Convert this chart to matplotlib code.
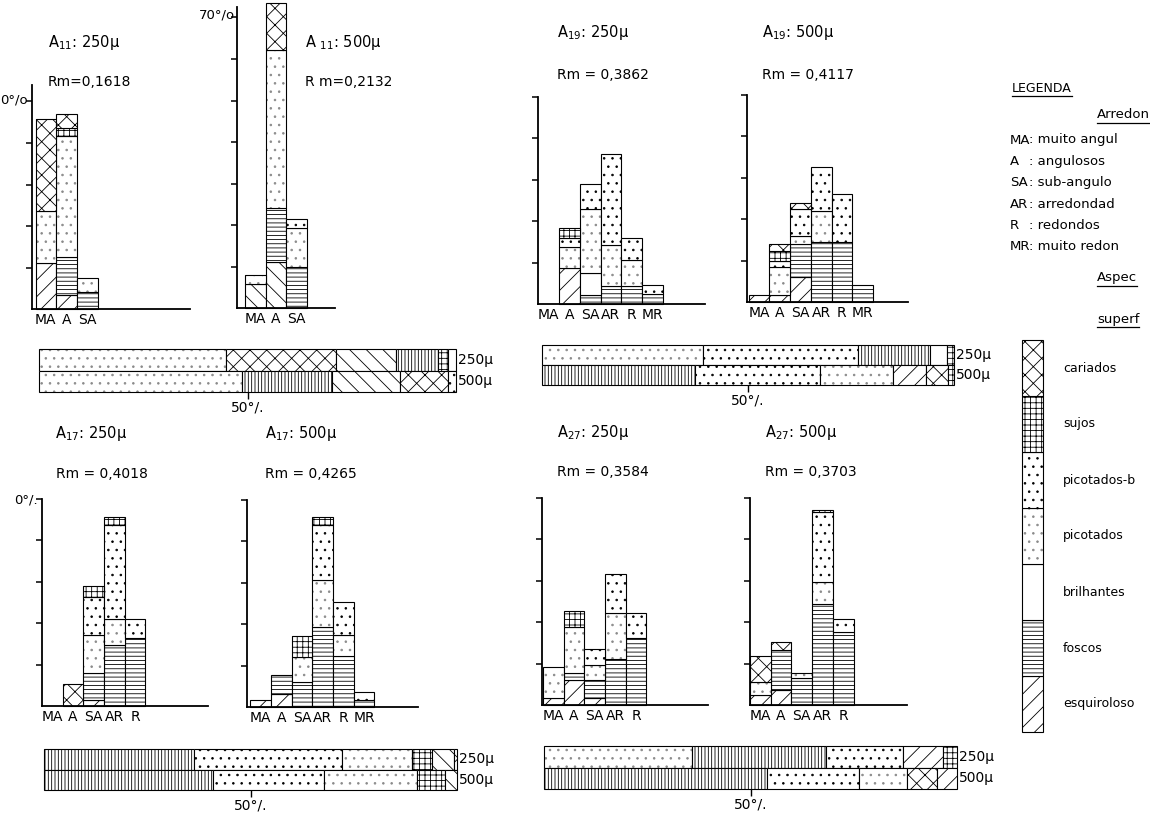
import matplotlib
matplotlib.use('Agg')
import matplotlib.pyplot as plt
from matplotlib.lines import Line2D

plt.rcParams['font.family'] = ['DejaVu Sans']
plt.rcParams['hatch.linewidth'] = 0.6
plt.rcParams['hatch.color'] = 'black'

# ---------------- data (percent of grains) ----------------
CATS = ['esquirolosos', 'foscos', 'brilhantes', 'picotados',
        'picotados-brilhantes', 'sujos', 'cariados']   # stacking bottom -> top

CLASSES3 = ['MA', 'A', 'SA']
CLASSES5 = ['MA', 'A', 'SA', 'AR', 'R']
CLASSES6 = ['MA', 'A', 'SA', 'AR', 'R', 'MR']

A11_250 = {'esquirolosos': [11.0, 3.4, 0], 'foscos': [0, 9.2, 4.0],
           'picotados': [12.7, 29.0, 3.4], 'sujos': [0, 2.0, 0],
           'cariados': [22.1, 3.4, 0]}
A11_500 = {'esquirolosos': [5.8, 11.2, 0], 'foscos': [0, 13.0, 10.0],
           'picotados': [2.2, 38.0, 9.2], 'picotados-brilhantes': [0, 0, 2.2],
           'cariados': [0, 11.3, 0]}
A19_250 = {'esquirolosos': [0, 8.6, 0, 0, 0, 0], 'foscos': [0, 0, 2.2, 4.3, 4.3, 2.4],
           'brilhantes': [0, 0, 5.2, 0, 0, 0], 'picotados': [0, 5.2, 15.6, 10.0, 6.3, 0],
           'picotados-brilhantes': [0, 2.2, 6.0, 21.9, 5.4, 2.2],
           'sujos': [0, 2.3, 0, 0, 0, 0]}
A19_500 = {'esquirolosos': [1.8, 1.6, 6.0, 0, 0, 0], 'foscos': [0, 0, 8.0, 14.4, 14.4, 4.0],
           'picotados': [0, 6.8, 2.0, 7.6, 0, 0],
           'picotados-brilhantes': [0, 1.6, 6.4, 10.6, 11.6, 0],
           'sujos': [0, 2.4, 0, 0, 0, 0], 'cariados': [0, 1.6, 1.4, 0, 0, 0]}
A17_250 = {'esquirolosos': [0, 0, 1.4, 0, 0], 'foscos': [0, 0, 6.5, 14.7, 16.5],
           'picotados': [0, 0, 9.2, 6.2, 0],
           'picotados-brilhantes': [0, 0, 9.2, 22.7, 4.4],
           'sujos': [0, 0, 2.6, 1.9, 0], 'cariados': [0, 5.4, 0, 0, 0]}
A17_500 = {'esquirolosos': [1.6, 3.2, 0, 0, 0, 0], 'foscos': [0, 4.6, 6.0, 19.3, 12.4, 1.6],
           'picotados': [0, 0, 6.0, 11.2, 4.9, 0],
           'picotados-brilhantes': [0, 0, 0, 13.3, 8.0, 2.0],
           'sujos': [0, 0, 5.2, 2.0, 0, 0]}
A27_250 = {'esquirolosos': [1.6, 6.0, 1.6, 0, 0], 'foscos': [0, 1.8, 4.4, 11.2, 16.2],
           'picotados': [7.6, 11.0, 3.6, 11.0, 0],
           'picotados-brilhantes': [0, 0, 3.8, 9.4, 6.0],
           'sujos': [0, 3.9, 0, 0, 0]}
A27_500 = {'esquirolosos': [2.4, 3.6, 0, 0, 0], 'foscos': [0, 9.6, 6.4, 24.4, 17.6],
           'picotados': [3.2, 0, 1.4, 5.2, 0],
           'picotados-brilhantes': [0, 0, 0, 16.8, 3.2],
           'sujos': [0, 0, 0, 0.6, 0], 'cariados': [6.2, 2.0, 0, 0, 0]}

# totals per sample (100 % bars), in drawing order left -> right
H_A11_250 = [('picotados', 44.8), ('cariados', 26.4), ('esquirolosos', 14.4),
             ('foscos', 10.2), ('sujos', 2.4), ('brilhantes', 1.8)]
H_A11_500 = [('picotados', 48.8), ('foscos', 21.4), ('esquirolosos', 16.4),
             ('cariados', 11.6), ('picotados-brilhantes', 1.8)]
H_A19_250 = [('picotados', 39.0), ('picotados-brilhantes', 37.8), ('foscos', 17.4),
             ('brilhantes', 4.0), ('sujos', 1.8)]
H_A19_500 = [('foscos', 37.2), ('picotados-brilhantes', 30.2), ('picotados', 17.9),
             ('esquirolosos', 7.9), ('cariados', 5.4), ('sujos', 1.4)]
H_A17_250 = [('foscos', 36.2), ('picotados-brilhantes', 35.9), ('picotados', 17.0),
             ('sujos', 4.8), ('esquirolosos', 5.4), ('cariados', 0.7)]
H_A17_500 = [('foscos', 41.0), ('picotados-brilhantes', 26.8), ('picotados', 22.5),
             ('sujos', 6.9), ('esquirolosos', 2.8)]
H_A27_250 = [('picotados', 35.8), ('foscos', 32.6), ('picotados-brilhantes', 18.6),
             ('esquirolosos', 9.5), ('sujos', 3.6)]
H_A27_500 = [('foscos', 54.0), ('picotados-brilhantes', 22.2), ('picotados', 11.7),
             ('cariados', 7.3), ('esquirolosos', 4.8)]

# legend texts (as visible, the page is cut at the right edge)
ROUND_ABBR = ['MA', 'A', 'SA', 'AR', 'R', 'MR']
ROUND_NAMES = ['muito angul', 'angulosos', 'sub-angulo',
               'arredondad', 'redondos', 'muito redon']
SURF_LABELS = {'cariados': 'cariados', 'sujos': 'sujos',
               'picotados-brilhantes': 'picotados-b', 'picotados': 'picotados',
               'brilhantes': 'brilhantes', 'foscos': 'foscos',
               'esquirolosos': 'esquiroloso'}

# ---------------- styles ----------------
HATCH_V = {'esquirolosos': '//', 'foscos': '----', 'brilhantes': '',
           'picotados': '..', 'picotados-brilhantes': '..', 'sujos': '+++',
           'cariados': 'xx'}
HATCH_H = {'esquirolosos': '\\\\', 'foscos': '|||||', 'brilhantes': '',
           'picotados': '..', 'picotados-brilhantes': '..', 'sujos': '+++',
           'cariados': 'xx'}
HCOLOR = {'picotados': '#8a8a8a'}

W, H = 1150, 815
fig = plt.figure(figsize=(W / 100, H / 100), dpi=100)
fig.patch.set_facecolor('white')
renderer = fig.canvas.get_renderer()


def px_axes(x0, y_top, x1, y_bot):
    return fig.add_axes([x0 / W, 1 - y_bot / H, (x1 - x0) / W, (y_bot - y_top) / H])


def ftext(x, y, s, underline=False, **kw):
    kw.setdefault('va', 'center')
    kw.setdefault('ha', 'left')
    t = fig.text(x / W, 1 - y / H, s, **kw)
    if underline:
        bb = t.get_window_extent(renderer)
        yl = bb.y0 - 1
        fig.add_artist(Line2D([bb.x0 / W, bb.x1 / W], [yl / H, yl / H],
                              color='black', linewidth=0.9))
    return t


def seg(ax, horizontal, pos, val, start, hatch, hcol):
    if horizontal:
        ax.barh(pos, val, height=1, left=start, align='edge', facecolor='white',
                edgecolor=hcol, hatch=hatch, linewidth=0, clip_on=False)
        ax.barh(pos, val, height=1, left=start, align='edge', fill=False,
                edgecolor='black', linewidth=0.8, clip_on=False)
    else:
        ax.bar(pos, val, width=1, bottom=start, align='edge', facecolor='white',
               edgecolor=hcol, hatch=hatch, linewidth=0, clip_on=False)
        ax.bar(pos, val, width=1, bottom=start, align='edge', fill=False,
               edgecolor='black', linewidth=0.8, clip_on=False)


PXPCT = 4.15
BARW = 20.7


def panel(data, labels, ax_x, base, end, top, off, ymax=None, esq='//'):
    ymax = ymax or top
    hpx = ymax * PXPCT
    ax = px_axes(ax_x, base - hpx, end, base)
    ax.set_xlim(0, (end - ax_x) / BARW)
    ax.set_ylim(0, ymax)
    n = len(labels)
    xs = [off / BARW + i for i in range(n)]
    bottoms = [0.0] * n
    for cat in CATS:
        vals = data.get(cat, [0] * n)
        hatch = esq if cat == 'esquirolosos' else HATCH_V[cat]
        for i in range(n):
            if vals[i] > 0:
                seg(ax, False, xs[i], vals[i], bottoms[i], hatch,
                    HCOLOR.get(cat, 'black'))
            bottoms[i] += vals[i]
    for s in ['top', 'right']:
        ax.spines[s].set_visible(False)
    for s in ['left', 'bottom']:
        ax.spines[s].set_linewidth(1.3)
    ax.spines['left'].set_bounds(0, top)
    ax.set_yticks(range(10, int(top) + 1, 10))
    ax.tick_params(axis='y', direction='out', length=4, width=1.1, labelleft=False)
    ax.set_xticks([x + 0.5 for x in xs])
    ax.set_xticklabels(labels, fontsize=10)
    ax.tick_params(axis='x', length=0, pad=3)
    ax.set_facecolor('none')
    return ax


def hbars(rows, x0, y_top, x1, y_bot, esq):
    ax = px_axes(x0, y_top, x1, y_bot)
    ax.set_xlim(0, 100)
    ax.set_ylim(0, 2)
    for yi, row in zip([1, 0], rows):
        left = 0.0
        for cat, v in row:
            hatch = esq if cat == 'esquirolosos' else HATCH_H[cat]
            seg(ax, True, yi, v, left, hatch, HCOLOR.get(cat, 'black'))
            left += v
    for s in ax.spines.values():
        s.set_visible(False)
    ax.set_yticks([])
    ax.set_xticks([50])
    ax.set_xticklabels(['50°/.'], fontsize=10)
    ax.tick_params(axis='x', direction='out', length=5, width=1, pad=1)
    ax.text(100.5, 1.5, '250µ', va='center', ha='left', fontsize=10)
    ax.text(100.5, 0.5, '500µ', va='center', ha='left', fontsize=10)
    ax.set_facecolor('none')


# ---------------- panels ----------------
panel(A11_250, CLASSES3, 32, 309, 190, 54, 3.5)
ftext(28, 100, '0°/o', ha='right', fontsize=9.5)
ftext(48, 42, 'A$_{11}$: 250µ', fontsize=10.5)
ftext(48, 82, 'Rm=0,1618', fontsize=10)

panel(A11_500, CLASSES3, 237, 308, 335, 72.5, 8, ymax=74, esq='\\\\')
ftext(235, 15, '70°/o', ha='right', fontsize=9.5)
ftext(305, 42, 'A $_{11}$: 500µ', fontsize=10.5)
ftext(305, 82, 'R m=0,2132', fontsize=10)

panel(A19_250, CLASSES6, 538, 304, 705, 50, 0.5)
ftext(557, 33, 'A$_{19}$: 250µ', fontsize=10.5)
ftext(557, 75, 'Rm = 0,3862', fontsize=10)

panel(A19_500, CLASSES6, 747, 302, 908, 50, 1.7)
ftext(762, 33, 'A$_{19}$: 500µ', fontsize=10.5)
ftext(762, 75, 'Rm = 0,4117', fontsize=10)

panel(A17_250, CLASSES5, 42, 706, 208, 50, 0.0)
ftext(38, 500, '0°/.', ha='right', fontsize=9.5)
ftext(55, 433, 'A$_{17}$: 250µ', fontsize=10.5)
ftext(56, 474, 'Rm = 0,4018', fontsize=10)

panel(A17_500, CLASSES6, 247, 707, 418, 50, 3.3)
ftext(265, 433, 'A$_{17}$: 500µ', fontsize=10.5)
ftext(265, 474, 'Rm = 0,4265', fontsize=10)

panel(A27_250, CLASSES5, 542, 705, 708, 50, 1.0, esq='//')
ftext(557, 432, 'A$_{27}$: 250µ', fontsize=10.5)
ftext(557, 472, 'Rm = 0,3584', fontsize=10)

panel(A27_500, CLASSES5, 750, 705, 907, 50, 0.0)
ftext(765, 432, 'A$_{27}$: 500µ', fontsize=10.5)
ftext(765, 472, 'Rm = 0,3703', fontsize=10)

# ---------------- 100 % bars ----------------
hbars([H_A11_250, H_A11_500], 39, 349, 456, 392, '\\\\')
hbars([H_A19_250, H_A19_500], 542, 345, 954, 385, '//')
hbars([H_A17_250, H_A17_500], 44, 749, 457, 790, '\\\\')
hbars([H_A27_250, H_A27_500], 544, 746, 957, 789, '//')

# ---------------- legend ----------------
ftext(1012, 88, 'LEGENDA', underline=True, fontsize=9)
ftext(1097, 115, 'Arredon', underline=True, fontsize=9.5)
for i, (ab, nm) in enumerate(zip(ROUND_ABBR, ROUND_NAMES)):
    y = 140 + i * 21.4
    ftext(1010, y, ab, fontsize=9.5)
    ftext(1029, y, ': ' + nm, fontsize=9.5)
ftext(1097, 278, 'Aspec', underline=True, fontsize=9.5)
ftext(1097, 320, 'superf', underline=True, fontsize=9.5)

leg = px_axes(1022, 340, 1043, 732)
leg.set_xlim(0, 1)
leg.set_ylim(0, len(CATS))
for i, cat in enumerate(CATS):
    seg(leg, False, 0, 1, i, HATCH_V[cat], HCOLOR.get(cat, 'black'))
    ftext(1063, 732 - (i + 0.5) * 56, SURF_LABELS[cat], fontsize=9)
leg.axis('off')

fig.savefig('out.png', dpi=100, facecolor='white')
